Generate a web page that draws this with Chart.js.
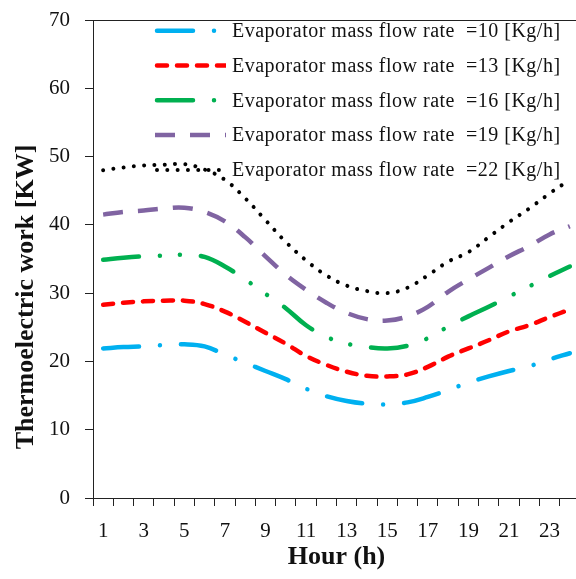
<!DOCTYPE html>
<html>
<head>
<meta charset="utf-8">
<script src="https://cdn.jsdelivr.net/npm/chart.js@4"></script>
<style>
html,body{margin:0;padding:0;overflow:hidden;background:#fff;width:576px;height:579px;}
#wrap{position:absolute;left:0;top:0;width:590px;height:579px;}
canvas{display:block;}
</style>
</head>
<body>
<div id="wrap"><canvas id="c" width="590" height="579"></canvas></div>
<script>
const hours = ['1','2','3','4','5','6','7','8','9','10','11','12','13','14','15','16','17','18','19','20','21','22','23','24'];
const flow10 = [21.9,22.1,22.2,22.4,22.5,22.2,21.0,19.8,18.6,17.4,16.0,14.9,14.2,13.8,13.7,14.0,14.8,15.8,16.9,17.8,18.6,19.3,20.3,21.2];
const flow13 = [28.3,28.6,28.8,28.9,28.9,28.4,27.3,25.8,24.2,22.6,20.8,19.5,18.5,17.9,17.8,18.1,19.2,20.7,21.9,23.1,24.4,25.3,26.5,27.6];
const flow16 = [34.9,35.2,35.4,35.5,35.6,35.3,33.9,32.0,29.9,27.8,25.3,23.6,22.6,22.1,21.9,22.3,23.4,25.1,26.6,28.0,29.5,31.0,32.5,33.9];
const flow19 = [41.5,41.9,42.1,42.4,42.5,41.9,40.5,38.2,35.4,32.7,30.5,28.6,27.1,26.2,26.0,26.6,28.0,30.2,32.0,33.7,35.4,36.9,38.6,39.8];
const flow22 = [48.0,48.4,48.7,48.8,48.9,48.1,46.6,43.9,40.7,37.5,34.8,32.6,31.1,30.3,30.0,30.8,32.6,34.6,36.0,38.2,40.4,42.4,44.6,46.6];
const seriesLabels = [
  'Evaporator mass flow rate  =10 [Kg/h]',
  'Evaporator mass flow rate  =13 [Kg/h]',
  'Evaporator mass flow rate  =16 [Kg/h]',
  'Evaporator mass flow rate  =19 [Kg/h]',
  'Evaporator mass flow rate  =22 [Kg/h]'
];
const yTitle = 'Thermoelectric work [KW]';
const xTitle = 'Hour (h)';

const serif = "'Liberation Serif', 'Times New Roman', serif";
const axisColor = '#222';

function ds(label, data, color, dash, cap, width) {
  return {
    label, data,
    borderColor: color, backgroundColor: color,
    borderWidth: width, borderDash: dash, borderCapStyle: cap,
    pointRadius: 0, pointHoverRadius: 0, fill: false, tension: 0.4
  };
}

const legendPlugin = {
  id: 'customLegend',
  afterDraw(chart) {
    const ctx = chart.ctx;
    ctx.save();
    chart.data.datasets.forEach((d, i) => {
      const y = 30.7 + i * 34.8;
      ctx.save();
      ctx.beginPath();
      ctx.rect(150, y - 10, 76, 20);
      ctx.clip();
      ctx.strokeStyle = d.borderColor;
      ctx.lineWidth = d.borderWidth;
      ctx.lineCap = d.borderCapStyle;
      ctx.setLineDash(d.borderDash);
      ctx.beginPath();
      ctx.moveTo(d.borderCapStyle === 'round' ? 157 : 155, y);
      ctx.lineTo(226, y);
      ctx.stroke();
      ctx.restore();
      ctx.save();
      ctx.fillStyle = '#111';
      ctx.font = "20px " + serif;
      ctx.letterSpacing = '0.5px';
      ctx.textAlign = 'left';
      ctx.textBaseline = 'middle';
      ctx.fillText(d.label, 232, y + 1);
      ctx.restore();
    });
    // y axis title
    ctx.save();
    ctx.translate(26, 297);
    ctx.rotate(-Math.PI / 2);
    ctx.fillStyle = '#111';
    ctx.font = "bold 26px " + serif;
    ctx.textAlign = 'center';
    ctx.textBaseline = 'middle';
    ctx.fillText(yTitle, 0, 0);
    ctx.restore();
    // plot frame
    const a = chart.chartArea;
    ctx.strokeStyle = axisColor;
    ctx.lineWidth = 1;
    ctx.setLineDash([]);
    ctx.strokeRect(Math.round(a.left) + 0.5, Math.round(a.top) + 0.5, Math.round(a.right - a.left), Math.round(a.bottom - a.top));
    ctx.restore();
  }
};

new Chart(document.getElementById('c'), {
  type: 'line',
  data: {
    labels: hours,
    datasets: [
      ds(seriesLabels[0], flow10, '#00B0F0', [36, 21, 0.01, 21], 'round', 4.5),
      ds(seriesLabels[1], flow13, '#FF0000', [10, 10], 'round', 4.5),
      ds(seriesLabels[2], flow16, '#00B050', [36, 21, 0.01, 20, 0.01, 21], 'round', 4.5),
      ds(seriesLabels[3], flow19, '#8064A2', [20, 15], 'butt', 4.5),
      ds(seriesLabels[4], flow22, '#000000', [0.01, 10.3], 'round', 4)
    ]
  },
  options: {
    responsive: false,
    animation: false,
    devicePixelRatio: 1,
    layout: { padding: { left: 0, right: 10, top: 20, bottom: 0 } },
    plugins: { legend: { display: false }, tooltip: { enabled: false } },
    scales: {
      x: {
        type: 'category',
        offset: true,
        grid: { display: true, offset: true, drawOnChartArea: false, drawTicks: true, tickLength: 8, color: axisColor },
        border: { display: true, color: axisColor, width: 1 },
        ticks: {
          autoSkip: false, maxRotation: 0, minRotation: 0,
          color: '#111', font: { family: serif, size: 21 }, padding: 13,
          callback: function(v, i) { return (i % 2 === 0) ? this.getLabelForValue(v) : ''; }
        },
        title: { display: true, text: xTitle, color: '#111', font: { family: serif, size: 26, weight: 'bold' }, padding: { top: 0, bottom: 6 } },
        afterFit: (s) => { s.height = 81; s.paddingLeft = 0; s.paddingRight = 0; }
      },
      y: {
        min: 0, max: 70,
        grid: { display: true, drawOnChartArea: false, drawTicks: true, tickLength: 8, color: axisColor },
        border: { display: true, color: axisColor, width: 1 },
        ticks: { stepSize: 10, color: '#111', font: { family: serif, size: 21 }, padding: 15 },
        afterFit: (s) => { s.width = 93; s.paddingTop = 0; s.paddingBottom = 0; }
      }
    }
  },
  plugins: [legendPlugin]
});
</script>
</body>
</html>
